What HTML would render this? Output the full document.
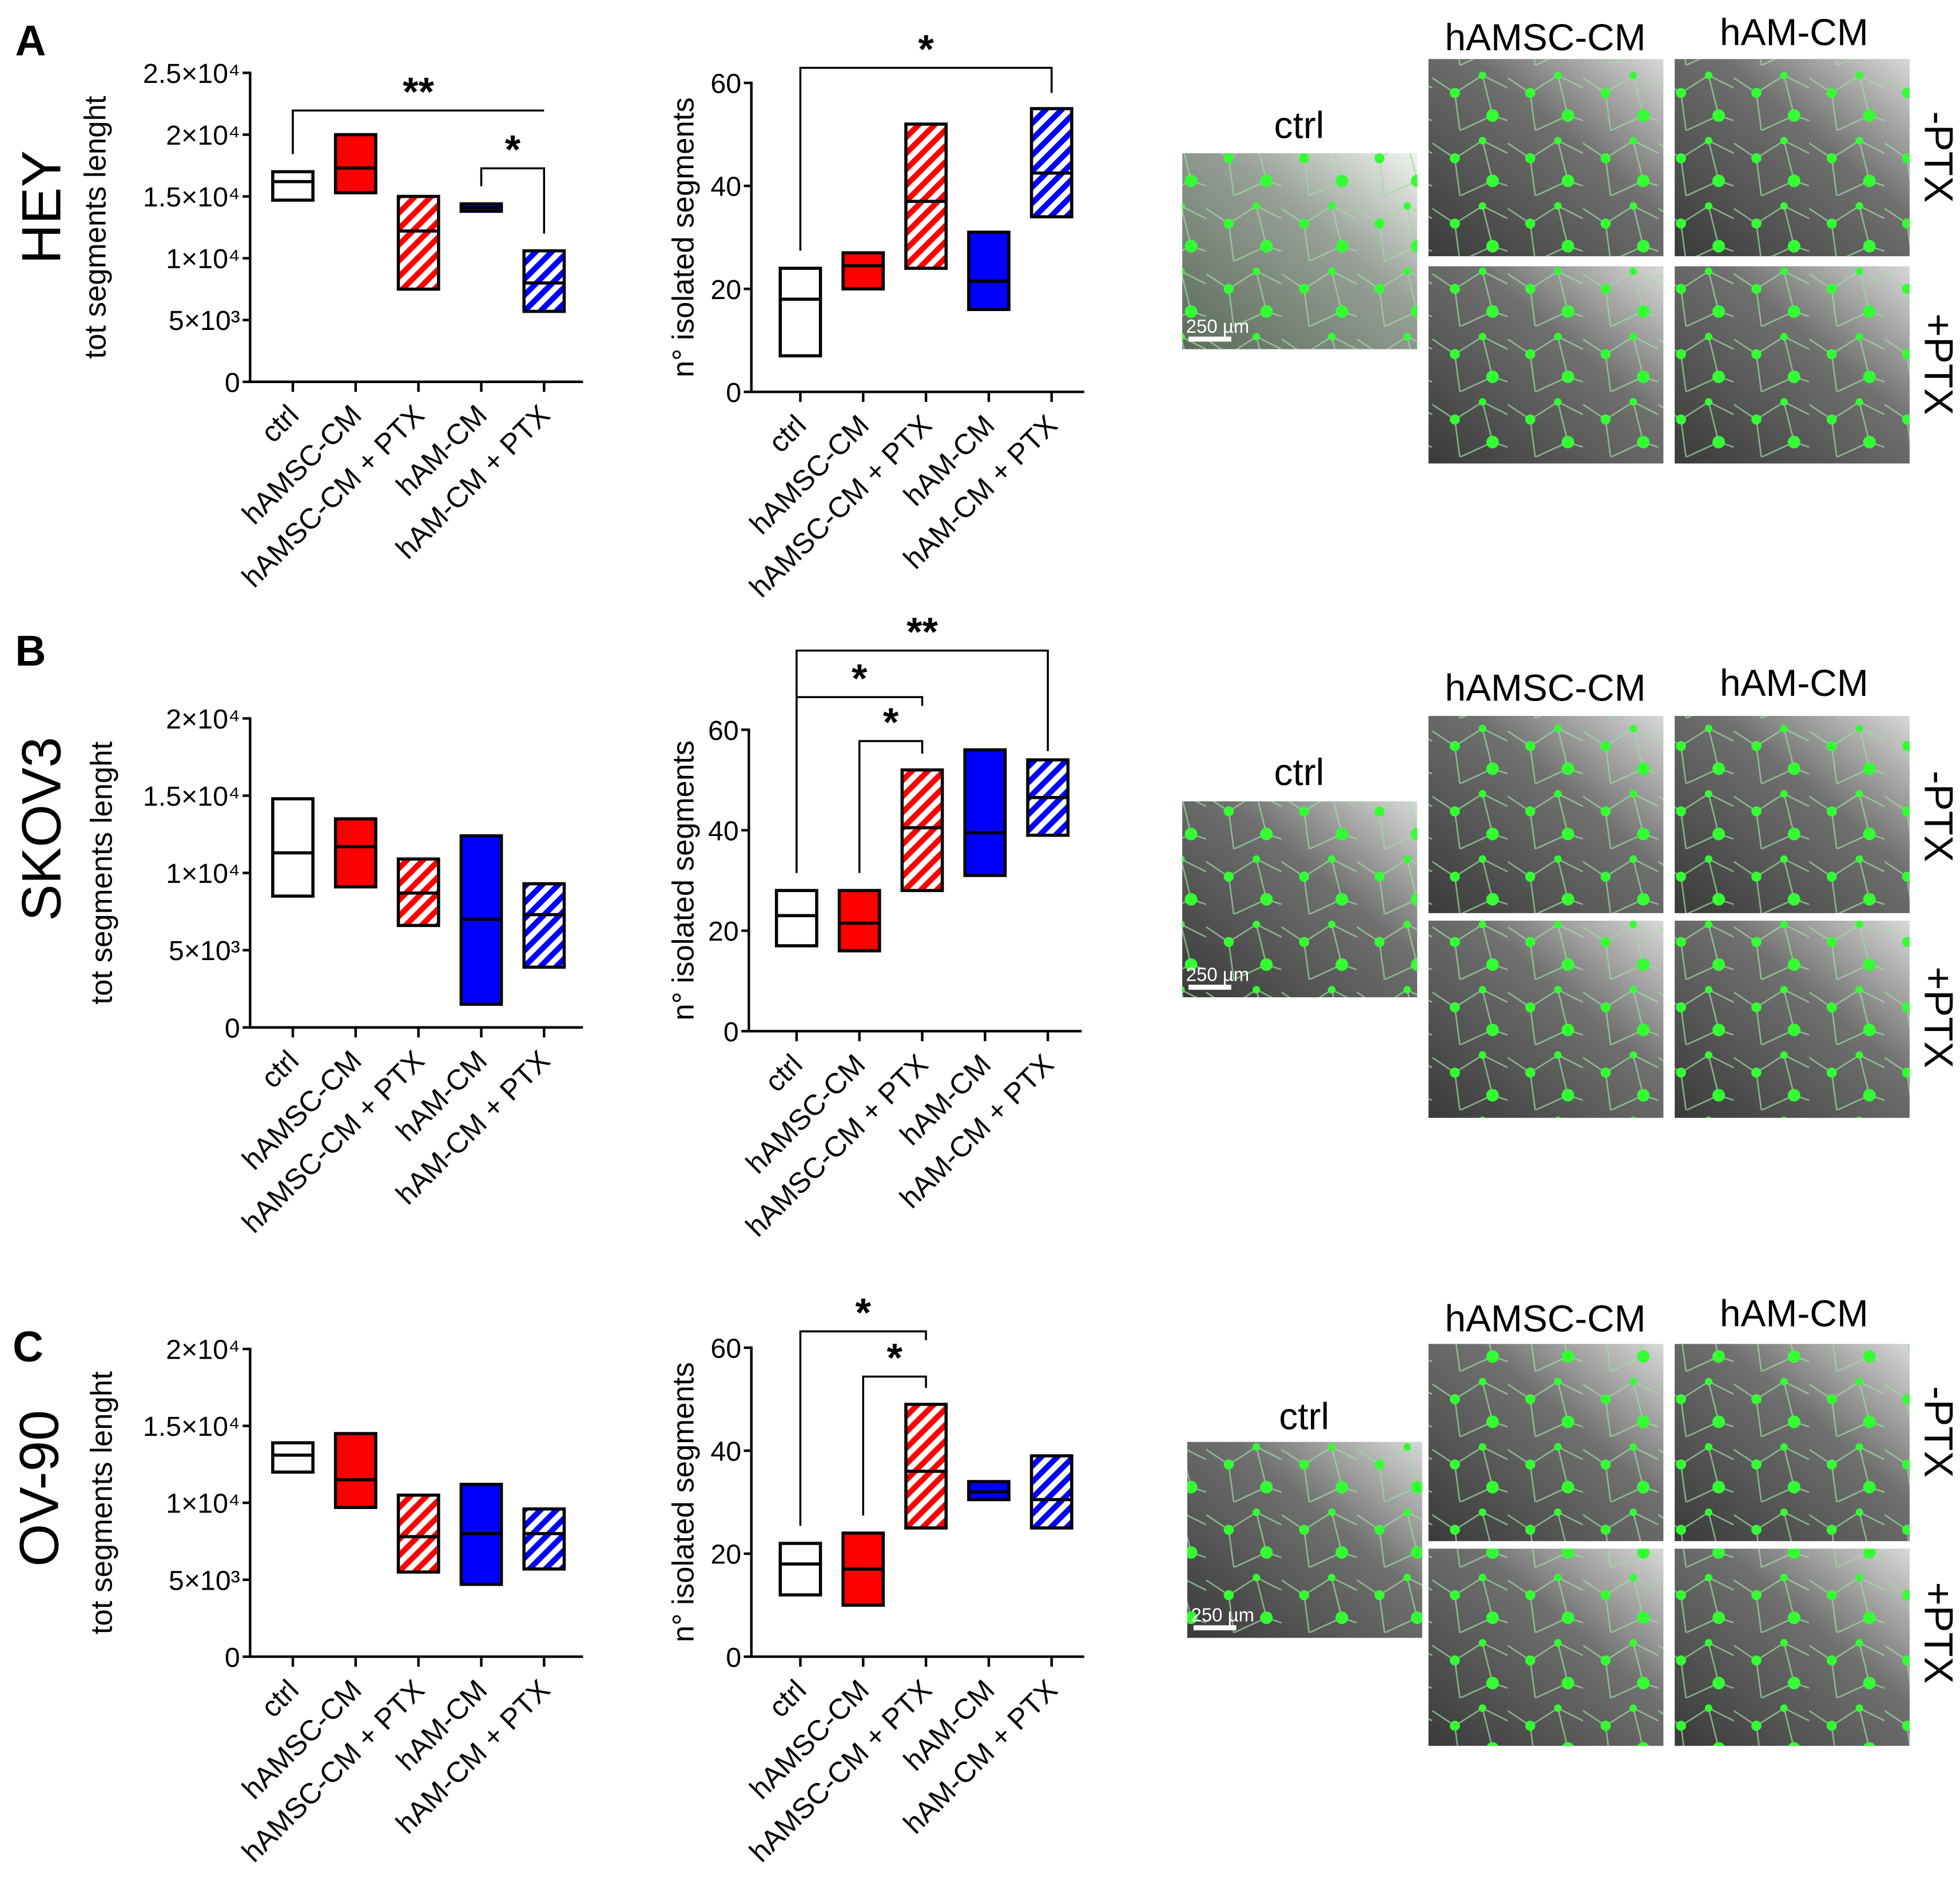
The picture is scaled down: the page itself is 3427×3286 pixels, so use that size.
<!DOCTYPE html>
<html><head><meta charset="utf-8"><style>
html,body{margin:0;padding:0;background:#fff}
svg{display:block}
text{font-family:"Liberation Sans",sans-serif;fill:#000}
</style></head><body>
<svg id="fig" width="3427" height="3286" viewBox="0 0 1560 1496" xmlns="http://www.w3.org/2000/svg">
<defs>
<pattern id="hatchRed" patternUnits="userSpaceOnUse" width="9" height="9" patternTransform="rotate(-45)">
<rect width="9" height="9" fill="#fff"/><rect width="9" height="4.5" fill="#f00"/></pattern>
<pattern id="hatchBlue" patternUnits="userSpaceOnUse" width="9" height="9" patternTransform="rotate(-45)">
<rect width="9" height="9" fill="#fff"/><rect width="9" height="4.5" fill="#00f"/></pattern>
<linearGradient id="micro" x1="0" y1="1" x2="1" y2="0">
<stop offset="0" stop-color="#3a3a3a"/><stop offset="0.6" stop-color="#707070"/><stop offset="1" stop-color="#d8d8d8"/></linearGradient>
<linearGradient id="microLight" x1="0" y1="1" x2="1" y2="0">
<stop offset="0" stop-color="#5a6a5a"/><stop offset="0.6" stop-color="#98a098"/><stop offset="1" stop-color="#f0f4f0"/></linearGradient>
<pattern id="cells" patternUnits="userSpaceOnUse" width="60" height="52">
<path d="M0 10 L18 22 L40 8 L60 18 M18 22 L22 52 M40 8 L48 40 L22 52 M48 40 L60 44" stroke="#9fdc9f" stroke-width="1.2" fill="none" opacity="0.7"/>
<circle cx="18" cy="22" r="4" fill="#3f3"/><circle cx="48" cy="40" r="5" fill="#3f3"/><circle cx="40" cy="8" r="3" fill="#3f3"/>
</pattern>
</defs>
<g id="charts"></g>
<g id="labels"></g>
</svg>
<script>
const categories = ["ctrl","hAMSC-CM","hAMSC-CM + PTX","hAM-CM","hAM-CM + PTX"];
const fills = ["#fff","#f00","url(#hatchRed)","#00f","url(#hatchBlue)"];
// [min, median, max] per category
const heyLength = [[14700,16200,17000],[15300,17300,20000],[7500,12200,15000],[13800,14100,14400],[5700,8000,10600]];
const heyIsolated = [[7,18,24],[20,24.5,27],[24,37,52],[16,21.5,31],[34,42.5,55]];
const skovLength = [[8500,11300,14800],[9100,11700,13500],[6600,8700,10900],[1500,7000,12400],[3900,7300,9300]];
const skovIsolated = [[17,23,28],[16,21.5,28],[28,40.5,52],[31,39.5,56],[39,46.5,54]];
const ovLength = [[12000,13100,13900],[9700,11500,14500],[5500,7800,10500],[4700,8000,11200],[5700,8000,9600]];
const ovIsolated = [[12,18,22],[10,17,24],[25,36,49],[30.5,32,34],[25,30.5,39]];
const lenTicks2 = [0,5000,10000,15000,20000,25000];
const lenTickLabels2 = ["0","5×10³","1×10⁴","1.5×10⁴","2×10⁴","2.5×10⁴"];
const lenTicks = [0,5000,10000,15000,20000];
const lenTickLabels = ["0","5×10³","1×10⁴","1.5×10⁴","2×10⁴"];
const isoTicks = [0,20,40,60];
const isoTickLabels = ["0","20","40","60"];
// significance brackets: [fromIdx, toIdx, stars]
const heyLenSig = [[0,4,"**"],[3,4,"*"]];
const heyIsoSig = [[0,4,"*"]];
const skovIsoSig = [[0,2,"*"],[1,2,"*"],[0,4,"**"]];
const ovIsoSig = [[0,2,"*"],[1,2,"*"]];

const NS="http://www.w3.org/2000/svg";
const G=document.getElementById('charts');
function mk(tag,attrs,parent){const e=document.createElementNS(NS,tag);for(const k in attrs)e.setAttribute(k,attrs[k]);(parent||G).appendChild(e);return e;}

function chart(cfg){
  const g=mk('g',{});
  
  
  const yScale=v=>cfg.y0+(cfg.yTop-cfg.y0)*(v/cfg.yMax);
  const xScale=i=>cfg.x0+i*50;
  const ya=mk('line',{x1:cfg.ax,y1:yScale(cfg.yMax)-1,x2:cfg.ax,y2:cfg.y0+1,stroke:'#000','stroke-width':2},g);
  
  
  const xa=mk('line',{x1:cfg.ax-1,y1:cfg.y0,x2:cfg.ax+265,y2:cfg.y0,stroke:'#000','stroke-width':2},g);
  
  
  cfg.ticks.forEach((t,i)=>{
    const y=yScale(t);
    mk('line',{x1:cfg.ax-6,y1:y,x2:cfg.ax,y2:y,stroke:'#000','stroke-width':2},g);
    const tx=mk('text',{x:cfg.ax-8,y:y+8,'text-anchor':'end','font-size':22,'textLength':cfg.tickLabels[i].length>4?undefined:undefined},g);
    tx.removeAttribute('textLength');
    tx.textContent=cfg.tickLabels[i];
    
    
  });
  categories.forEach((c,i)=>{
    const x=xScale(i);
    mk('line',{x1:x,y1:cfg.y0,x2:x,y2:cfg.y0+8,stroke:'#000','stroke-width':2},g);
    const tx=mk('text',{x:0,y:0,'text-anchor':'end','font-size':23,transform:`translate(${x+6},${cfg.y0+28}) rotate(-45)`},g);
    tx.textContent=c;
    
    
    const d=cfg.data[i];
    const top=yScale(d[2]),bot=yScale(d[0]),med=yScale(d[1]);
    const r=mk('rect',{x:x-16,y:top,width:32,height:bot-top,fill:fills[i],stroke:'#000','stroke-width':2.5},g);
    
    
    const m=mk('line',{x1:x-16,y1:med,x2:x+16,y2:med,stroke:'#000','stroke-width':2.5},g);
    
    
  });
  (cfg.sig||[]).forEach((s,k)=>{
    const a=xScale(s[0]),b=xScale(s[1]);
    const top=cfg.sigY[k];
    const ya=yScale(cfg.data[s[0]][2])-14, yb=cfg.sigEnd[k];
    const p=mk('path',{d:`M${a} ${ya} L${a} ${top} L${b} ${top} L${b} ${yb}`,fill:'none',stroke:'#000','stroke-width':1.6},g);
    
    
    const t=mk('text',{x:(a+b)/2,y:top-4,'text-anchor':'middle','font-size':32,'font-weight':'bold'},g);
    t.textContent=s[2];
    
    
  });
  const yt=mk('text',{x:0,y:0,'text-anchor':'middle','font-size':24,transform:`translate(${cfg.titleX},${(cfg.y0+yScale(cfg.yMax))/2}) rotate(-90)`},g);
  yt.textContent=cfg.title;
  
  
}

chart({name:'hey-length-chart',ax:199,x0:233,y0:304,yTop:58,yMax:25000,ticks:lenTicks2,tickLabels:lenTickLabels2,data:heyLength,title:'tot segments lenght',titleX:84,sig:heyLenSig,sigY:[88,134],sigEnd:[88,186]});
chart({name:'hey-isolated-chart',ax:598,x0:637,y0:312,yTop:66,yMax:60,ticks:isoTicks,tickLabels:isoTickLabels,data:heyIsolated,title:'n° isolated segments',titleX:552,sig:heyIsoSig,sigY:[54],sigEnd:[74]});
chart({name:'skov3-length-chart',ax:199,x0:233,y0:818,yTop:572,yMax:20000,ticks:lenTicks,tickLabels:lenTickLabels,data:skovLength,title:'tot segments lenght',titleX:89,sig:[],sigY:[],sigEnd:[]});
chart({name:'skov3-isolated-chart',ax:596,x0:634,y0:821,yTop:581,yMax:60,ticks:isoTicks,tickLabels:isoTickLabels,data:skovIsolated,title:'n° isolated segments',titleX:552,sig:skovIsoSig,sigY:[555,590,518],sigEnd:[562,600,598]});
chart({name:'ov90-length-chart',ax:199,x0:233,y0:1319,yTop:1074,yMax:20000,ticks:lenTicks,tickLabels:lenTickLabels,data:ovLength,title:'tot segments lenght',titleX:89,sig:[],sigY:[],sigEnd:[]});
chart({name:'ov90-isolated-chart',ax:598,x0:637,y0:1319,yTop:1073,yMax:60,ticks:isoTicks,tickLabels:isoTickLabels,data:ovIsolated,title:'n° isolated segments',titleX:552,sig:ovIsoSig,sigY:[1060,1096],sigEnd:[1067,1105]});

const L=document.getElementById('labels');
function txt(s,x,y,size,opts,name){const t=mk('text',Object.assign({x:x,y:y,'font-size':size},opts||{}),L);t.textContent=s;
  
  return t;}
txt('A',12,44,34,{'font-weight':'bold'},'panel-label-a');
txt('B',12,530,34,{'font-weight':'bold'},'panel-label-b');
txt('C',10,1084,34,{'font-weight':'bold'},'panel-label-c');
txt('HEY',0,0,44,{'text-anchor':'middle',transform:'translate(48,165) rotate(-90)'},'cell-line-hey');
txt('SKOV3',0,0,44,{'text-anchor':'middle',transform:'translate(48,660) rotate(-90)'},'cell-line-skov3');
txt('OV-90',0,0,44,{'text-anchor':'middle',transform:'translate(46,1185) rotate(-90)'},'cell-line-ov90');

function img(x,y,w,h,light,name){
  const g=mk('g',{},L);
  
  
  mk('rect',{x:x,y:y,width:w,height:h,fill:light?'url(#microLight)':'url(#micro)'},g);
  mk('rect',{x:x,y:y,width:w,height:h,fill:'url(#cells)'},g);
}
const rows=[{ctrlY:122,ctrlX:941,cl:100,title:28,r1:47,r2:212,m:125,p:290,light:true},
            {ctrlY:638,ctrlX:941,cl:615,title:546,r1:570,r2:733,m:650,p:810,light:false},
            {ctrlY:1148,ctrlX:945,cl:1128,title:1048,r1:1070,r2:1233,m:1140,p:1300,light:false}];
rows.forEach((r,k)=>{
  txt('ctrl',r.ctrlX+93,r.cl+10,30,{'text-anchor':'middle'},'ctrl-image-title');
  img(r.ctrlX,r.ctrlY,187,156,r.light,'ctrl-micrograph');
  mk('rect',{x:r.ctrlX+5,y:r.ctrlY+146,width:34,height:4,fill:'#fff'},L);
  const sb=txt('250 µm',r.ctrlX+3,r.ctrlY+143,15,{fill:'#fff'},'scale-bar-label');
  sb.style.fill='#fff';
  txt('hAMSC-CM',1230,r.title+12,30,{'text-anchor':'middle'},'hamsc-cm-column-title');
  txt('hAM-CM',1428,r.title+8,30,{'text-anchor':'middle'},'ham-cm-column-title');
  img(1137,r.r1,187,157,false,'hamsc-cm-minus-ptx-micrograph');
  img(1333,r.r1,187,157,false,'ham-cm-minus-ptx-micrograph');
  img(1137,r.r2,187,157,false,'hamsc-cm-plus-ptx-micrograph');
  img(1333,r.r2,187,157,false,'ham-cm-plus-ptx-micrograph');
  txt('-PTX',0,0,32,{'text-anchor':'middle',transform:`translate(1532,${r.m}) rotate(90)`},'minus-ptx-row-label');
  txt('+PTX',0,0,32,{'text-anchor':'middle',transform:`translate(1532,${r.p}) rotate(90)`},'plus-ptx-row-label');
});
</script>
</body></html>
